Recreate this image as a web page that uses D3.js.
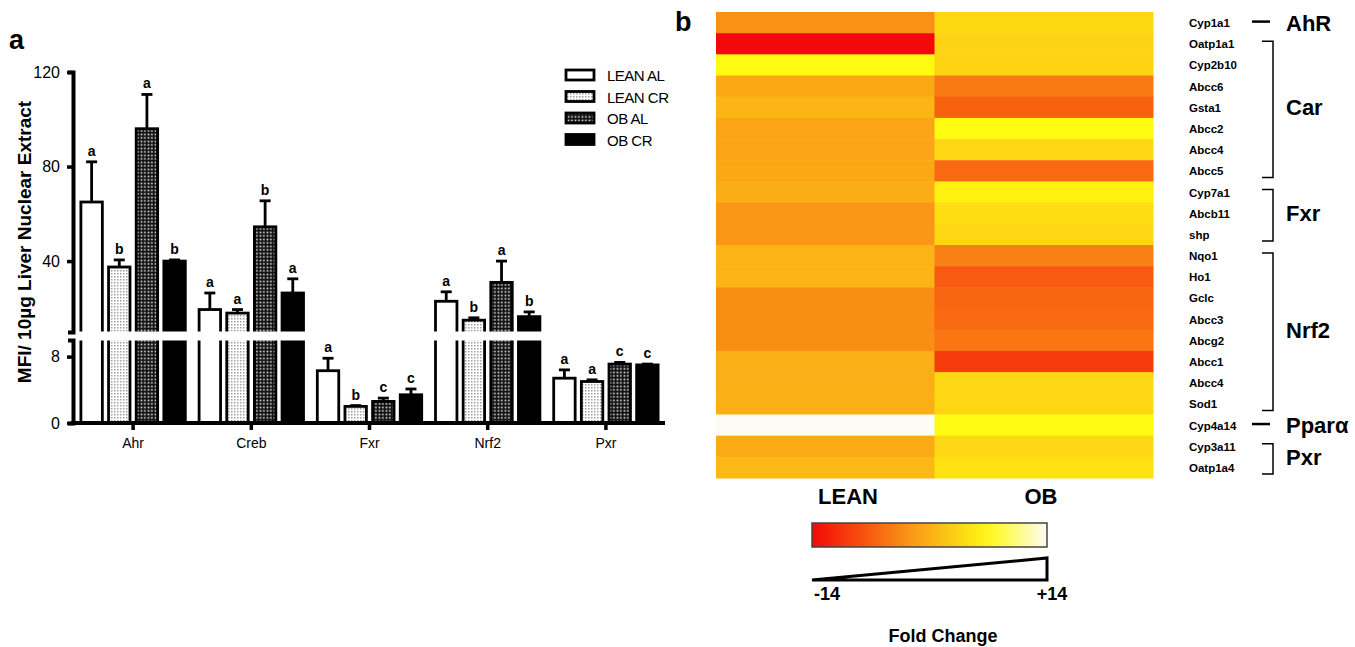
<!DOCTYPE html>
<html>
<head>
<meta charset="utf-8">
<script src="https://cdn.jsdelivr.net/npm/d3@7"></script>
<style>
  body { margin: 0; background: #fff; }
  svg { display: block; font-family: "Liberation Sans", Arial, sans-serif; }
</style>
</head>
<body>
<svg id="fig" width="1355" height="647"></svg>
<script>
// ---- panel a data ----
var categories = ["Ahr", "Creb", "Fxr", "Nrf2", "Pxr"];
var groups = ["LEAN AL", "LEAN CR", "OB AL", "OB CR"];
var leanAL = [65, 19.5, 6.3, 23, 5.4];
var leanCR = [37.5, 18, 2.0, 15, 5.0];
var obAL = [96, 54.5, 2.6, 31, 7.1];
var obCR = [40, 26.5, 3.4, 16.5, 7.0];
var leanALerr = [17, 7, 1.5, 4, 1];
var leanCRerr = [3, 1.5, 0.1, 1, 0.2];
var obALerr = [14.5, 11, 0.4, 9, 0.2];
var obCRerr = [0.5, 6, 0.7, 2, 0.1];
var leanALlet = ["a", "a", "a", "a", "a"];
var leanCRlet = ["b", "a", "b", "b", "a"];
var obALlet = ["a", "b", "c", "a", "c"];
var obCRlet = ["b", "a", "c", "b", "c"];
var upperTicks = [40, 80, 120];
var lowerTicks = [0, 8];

// ---- panel b data (fold change, LEAN vs OB) ----
var genes = ["Cyp1a1", "Oatp1a1", "Cyp2b10", "Abcc6", "Gsta1", "Abcc2", "Abcc4", "Abcc5",
  "Cyp7a1", "Abcb11", "shp", "Nqo1", "Ho1", "Gclc", "Abcc3", "Abcg2", "Abcc1", "Abcc4",
  "Sod1", "Cyp4a14", "Cyp3a11", "Oatp1a4"];
var leanFC = [-2.8, -14, 7, -0.7, 0.5, -1.0, -1.0, -0.7, -0.2, -2.3, -2.3, 0.3, 0.3, -3.0,
  -3.0, -3.0, -0.1, -0.1, -0.1, 14, -0.5, 0.8];
var obFC = [3.9, 3.3, 3.3, -4.6, -6.8, 7, 3.6, -6.0, 6.1, 4.3, 3.6, -4.1, -7.3, -6.3, -6.0,
  -5.0, -9.7, 3.6, 3.6, 7.0, 3.6, 4.7];
var receptors = [
  { name: "AhR", from: 0, to: 0 },
  { name: "Car", from: 1, to: 7 },
  { name: "Fxr", from: 8, to: 10 },
  { name: "Nrf2", from: 11, to: 18 },
  { name: "Pparα", from: 19, to: 19 },
  { name: "Pxr", from: 20, to: 21 }
];
var columns = ["LEAN", "OB"];

var svg = d3.select("#fig");
var defs = svg.append("defs");

var p1 = defs.append("pattern").attr("id", "lightDots").attr("width", 3).attr("height", 3)
  .attr("patternUnits", "userSpaceOnUse");
p1.append("rect").attr("width", 3).attr("height", 3).attr("fill", "#fff");
p1.append("rect").attr("width", 1.5).attr("height", 1.5).attr("fill", "#a0a0a0");
var p2 = defs.append("pattern").attr("id", "darkDots").attr("width", 3.5).attr("height", 3.5)
  .attr("patternUnits", "userSpaceOnUse");
p2.append("rect").attr("width", 3.5).attr("height", 3.5).attr("fill", "#111");
p2.append("rect").attr("x", 0.6).attr("y", 0.6).attr("width", 1.6).attr("height", 1.6).attr("fill", "#eee");

var fills = ["#fff", "url(#lightDots)", "url(#darkDots)", "#000"];
var series = [leanAL, leanCR, obAL, obCR];
var errs = [leanALerr, leanCRerr, obALerr, obCRerr];
var lets = [leanALlet, leanCRlet, obALlet, obCRlet];

// ---------------- panel a ----------------
svg.append("text").text("a").attr("x", 9).attr("y", 49)
  .attr("font-size", 27).attr("font-weight", "bold");

var yLow = d3.scaleLinear().domain([0, 10]).range([423, 340]);
var yHigh = d3.scaleLinear().domain([10, 120]).range([332, 72]);
function yv(v) { return v <= 10 ? yLow(v) : yHigh(v); }

var x = d3.scaleBand().domain(categories).range([74, 665]);
var xSub = d3.scaleBand().domain(groups).range([-53.5, 53.5]).paddingInner(0.13);

var barG = svg.append("g");
categories.forEach(function (c, i) {
  var cx = x(c) + x.bandwidth() / 2;
  groups.forEach(function (g, j) {
    var v = series[j][i];
    var bx = cx + xSub(g) + 1.3;
    var bw = xSub.bandwidth() - 2.6;
    var top = yv(v);
    var et = yv(v + errs[j][i]);
    // error bar
    barG.append("line").attr("x1", bx + bw / 2).attr("x2", bx + bw / 2)
      .attr("y1", top).attr("y2", et).attr("stroke", "#000").attr("stroke-width", 2.8);
    barG.append("line").attr("x1", bx + bw / 2 - 5.5).attr("x2", bx + bw / 2 + 5.5)
      .attr("y1", et).attr("y2", et).attr("stroke", "#000").attr("stroke-width", 2.8);
    barG.append("rect").attr("x", bx).attr("y", top)
      .attr("width", bw).attr("height", yLow(0) - top)
      .attr("fill", fills[j]).attr("stroke", "#000").attr("stroke-width", 2.8);
    barG.append("text").text(lets[j][i]).attr("x", bx + bw / 2).attr("y", et - 6)
      .attr("text-anchor", "middle").attr("font-size", 14).attr("font-weight", "bold");
  });
});
// axis break gap across the bars
svg.append("rect").attr("x", 75).attr("y", yHigh(10) - 0.5).attr("width", 590)
  .attr("height", yLow(10) - yHigh(10) + 1).attr("fill", "#fff");

function styleAxis(g) {
  g.selectAll("path").attr("stroke-width", 4);
  g.selectAll("line").attr("stroke-width", 3.5);
  g.selectAll("text").attr("font-size", 16).attr("font-family", "'Liberation Sans', Arial, sans-serif");
}
var ax1 = svg.append("g").attr("transform", "translate(73,0)")
  .call(d3.axisLeft(yHigh).tickValues(upperTicks).tickSize(6).tickSizeOuter(5).tickPadding(7));
styleAxis(ax1);
var ax2 = svg.append("g").attr("transform", "translate(73,0)")
  .call(d3.axisLeft(yLow).tickValues(lowerTicks).tickSize(6).tickSizeOuter(5).tickPadding(7));
styleAxis(ax2);
var axX = svg.append("g").attr("transform", "translate(0,423)")
  .call(d3.axisBottom(x).tickSize(7).tickSizeOuter(0).tickPadding(8));
axX.select("path").attr("d", "M71,0H665");
axX.selectAll("path").attr("stroke-width", 4);
axX.selectAll("line").attr("stroke-width", 3.5);
axX.selectAll("text").attr("font-size", 14).attr("font-family", "'Liberation Sans', Arial, sans-serif");

svg.append("text").text("MFI/ 10µg Liver Nuclear Extract")
  .attr("transform", "translate(31,242) rotate(-90)")
  .attr("text-anchor", "middle").attr("font-size", 19).attr("font-weight", "bold");

// legend
var leg = svg.append("g");
groups.forEach(function (g, j) {
  var ly = 70 + j * 21.5;
  leg.append("rect").attr("x", 566).attr("y", ly).attr("width", 28).attr("height", 10)
    .attr("fill", fills[j]).attr("stroke", "#000").attr("stroke-width", 2.8);
  leg.append("text").text(g).attr("x", 607).attr("y", ly + 11)
    .attr("font-size", 15).attr("letter-spacing", -0.5);
});

// ---------------- panel b ----------------
svg.append("text").text("b").attr("x", 675).attr("y", 31)
  .attr("font-size", 27).attr("font-weight", "bold");

var color = d3.scaleLinear().domain([-14, -2, 7, 14])
  .range(["#f40808", "#fa9a16", "#fffa12", "#fcfcf4"]).clamp(true);

var hx = d3.scaleBand().domain(columns).range([716, 1153]);
var hy = d3.scaleBand().domain(d3.range(genes.length)).range([12, 478]);
var values = [leanFC, obFC];
var heat = svg.append("g");
columns.forEach(function (c, ci) {
  genes.forEach(function (g, ri) {
    heat.append("rect").attr("x", hx(c)).attr("y", hy(ri))
      .attr("width", hx.bandwidth() + 0.5).attr("height", hy.bandwidth() + 0.5)
      .attr("fill", color(values[ci][ri]));
  });
});
genes.forEach(function (g, ri) {
  svg.append("text").text(g).attr("x", 1189).attr("y", hy(ri) + hy.bandwidth() / 2 + 4.5)
    .attr("font-size", 11.5).attr("font-weight", "bold");
});

// receptor brackets
receptors.forEach(function (r) {
  var y0 = hy(r.from) + 8, y1 = hy(r.to) + hy.bandwidth() - 4;
  var mid = (hy(r.from) + hy(r.to) + hy.bandwidth()) / 2;
  if (r.from === r.to) {
    svg.append("line").attr("x1", 1252).attr("x2", 1270).attr("y1", mid - 1).attr("y2", mid - 1)
      .attr("stroke", "#000").attr("stroke-width", 2.5);
  } else {
    svg.append("path").attr("d", "M1262," + y0 + "H1273V" + y1 + "H1262")
      .attr("fill", "none").attr("stroke", "#000").attr("stroke-width", 1.5);
  }
  svg.append("text").text(r.name).attr("x", 1286).attr("y", mid + 8)
    .attr("font-size", 22).attr("font-weight", "bold");
});

// column labels
svg.append("text").text("LEAN").attr("x", 848).attr("y", 504)
  .attr("text-anchor", "middle").attr("font-size", 22).attr("font-weight", "bold");
svg.append("text").text("OB").attr("x", 1041).attr("y", 504)
  .attr("text-anchor", "middle").attr("font-size", 22).attr("font-weight", "bold");

// colour bar
var fc = d3.scaleLinear().domain([-14, 14]).range([812, 1047]);
var grad = defs.append("linearGradient").attr("id", "fcGrad");
d3.range(-14, 14.01, 2).forEach(function (v) {
  grad.append("stop").attr("offset", ((v + 14) / 28 * 100) + "%").attr("stop-color", color(v));
});
svg.append("rect").attr("x", fc(-14)).attr("y", 523).attr("width", fc(14) - fc(-14)).attr("height", 24)
  .attr("fill", "url(#fcGrad)").attr("stroke", "#444").attr("stroke-width", 1.5);
svg.append("path")
  .attr("d", "M" + fc(-14) + ",580L" + fc(14) + ",558V580Z")
  .attr("fill", "#fff").attr("stroke", "#000").attr("stroke-width", 3).attr("stroke-linejoin", "miter");
svg.append("text").text("-14").attr("x", fc(-14) + 15).attr("y", 600)
  .attr("text-anchor", "middle").attr("font-size", 18).attr("font-weight", "bold");
svg.append("text").text("+14").attr("x", fc(14) + 5).attr("y", 600)
  .attr("text-anchor", "middle").attr("font-size", 18).attr("font-weight", "bold");
svg.append("text").text("Fold Change").attr("x", 943).attr("y", 642)
  .attr("text-anchor", "middle").attr("font-size", 18).attr("font-weight", "bold");
</script>
</body>
</html>
